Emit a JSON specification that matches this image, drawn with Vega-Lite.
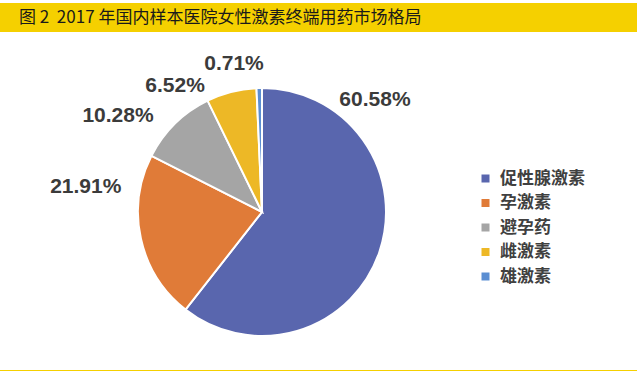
{
  "$schema": "https://vega.github.io/schema/vega-lite/v6.json",
  "padding": {"top": 3, "left": 0, "right": 0, "bottom": 0},
  "background": "white",
  "spacing": 20,
  "config": {"view": {"stroke": null}, "concat": {"spacing": 0}},
  "datasets": {
    "share": [
      {"category": "促性腺激素", "pct": 60.58, "label": "60.58%"},
      {"category": "孕激素", "pct": 21.91, "label": "21.91%"},
      {"category": "避孕药", "pct": 10.28, "label": "10.28%"},
      {"category": "雌激素", "pct": 6.52, "label": "6.52%"},
      {"category": "雄激素", "pct": 0.71, "label": "0.71%"}
    ]
  },
  "vconcat": [
    {
      "width": 637,
      "height": 29,
      "view": {"fill": "#F5D000", "stroke": null},
      "title": {
        "text": "图 2\u00a0\u00a02017 年国内样本医院女性激素终端用药市场格局",
        "anchor": "start",
        "frame": "group",
        "orient": "top",
        "offset": -24,
        "dx": 19,
        "fontSize": 17,
        "font": "Noto Sans CJK SC",
        "fontWeight": "normal",
        "color": "#1a1a1a"
      },
      "data": {"values": [{}]},
      "mark": {"type": "rect", "color": "#F5D000"}
    },
    {
      "spacing": 0,
      "vconcat": [
        {
          "width": 524,
          "height": 316,
          "data": {"name": "share"},
          "layer": [
            {
              "mark": {"type": "arc", "outerRadius": 124, "stroke": "white", "strokeWidth": 2},
              "encoding": {
                "theta": {"field": "pct", "type": "quantitative", "stack": true, "scale": {"domain": [0, 100]}},
                "order": {"field": "pct", "sort": "descending"},
                "color": {
                  "field": "category",
                  "type": "nominal",
                  "scale": {
                    "domain": ["促性腺激素", "孕激素", "避孕药", "雌激素", "雄激素"],
                    "range": ["#5966AE", "#E07B38", "#A5A5A5", "#EDB826", "#5B8ED2"]
                  },
                  "legend": {
                    "orient": "none",
                    "legendX": 477,
                    "legendY": 167,
                    "title": null,
                    "symbolType": "square",
                    "symbolSize": 64,
                    "symbolStrokeWidth": 0,
                    "labelFont": "Noto Sans CJK SC",
                    "labelFontSize": 17,
                    "labelFontWeight": "bold",
                    "labelColor": "#404040",
                    "labelOffset": 6,
                    "rowPadding": 6.5
                  }
                }
              }
            },
            {
              "transform": [
                {"stack": "pct", "groupby": [], "sort": [{"field": "pct", "order": "descending"}], "as": ["start", "end"]},
                {"filter": "datum.category === '促性腺激素'"}
              ],
              "mark": {"type": "text", "radius": 159, "thetaOffset": 0.790, "font": "Liberation Sans", "fontWeight": "bold", "fontSize": 21, "align": "center", "baseline": "middle", "color": "#3b3b3b"},
              "encoding": {"theta": {"field": "start", "type": "quantitative"}, "text": {"field": "label"}}
            },
            {
              "transform": [
                {"stack": "pct", "groupby": [], "sort": [{"field": "pct", "order": "descending"}], "as": ["start", "end"]},
                {"filter": "datum.category === '孕激素'"}
              ],
              "mark": {"type": "text", "radius": 178, "thetaOffset": 1.048, "font": "Liberation Sans", "fontWeight": "bold", "fontSize": 21, "align": "center", "baseline": "middle", "color": "#3b3b3b"},
              "encoding": {"theta": {"field": "start", "type": "quantitative"}, "text": {"field": "label"}}
            },
            {
              "transform": [
                {"stack": "pct", "groupby": [], "sort": [{"field": "pct", "order": "descending"}], "as": ["start", "end"]},
                {"filter": "datum.category === '避孕药'"}
              ],
              "mark": {"type": "text", "radius": 173, "thetaOffset": 0.117, "font": "Liberation Sans", "fontWeight": "bold", "fontSize": 21, "align": "center", "baseline": "middle", "color": "#3b3b3b"},
              "encoding": {"theta": {"field": "start", "type": "quantitative"}, "text": {"field": "label"}}
            },
            {
              "transform": [
                {"stack": "pct", "groupby": [], "sort": [{"field": "pct", "order": "descending"}], "as": ["start", "end"]},
                {"filter": "datum.category === '雌激素'"}
              ],
              "mark": {"type": "text", "radius": 153, "thetaOffset": -0.150, "font": "Liberation Sans", "fontWeight": "bold", "fontSize": 21, "align": "center", "baseline": "middle", "color": "#3b3b3b"},
              "encoding": {"theta": {"field": "start", "type": "quantitative"}, "text": {"field": "label"}}
            },
            {
              "transform": [
                {"stack": "pct", "groupby": [], "sort": [{"field": "pct", "order": "descending"}], "as": ["start", "end"]},
                {"filter": "datum.category === '雄激素'"}
              ],
              "mark": {"type": "text", "radius": 151, "thetaOffset": -0.142, "font": "Liberation Sans", "fontWeight": "bold", "fontSize": 21, "align": "center", "baseline": "middle", "color": "#3b3b3b"},
              "encoding": {"theta": {"field": "start", "type": "quantitative"}, "text": {"field": "label"}}
            }
          ]
        },
        {
          "width": 637,
          "height": 3,
          "view": {"fill": "#F5D000", "stroke": null},
          "data": {"values": [{}]},
          "mark": {"type": "rect", "color": "#F5D000"}
        }
      ]
    }
  ]
}
